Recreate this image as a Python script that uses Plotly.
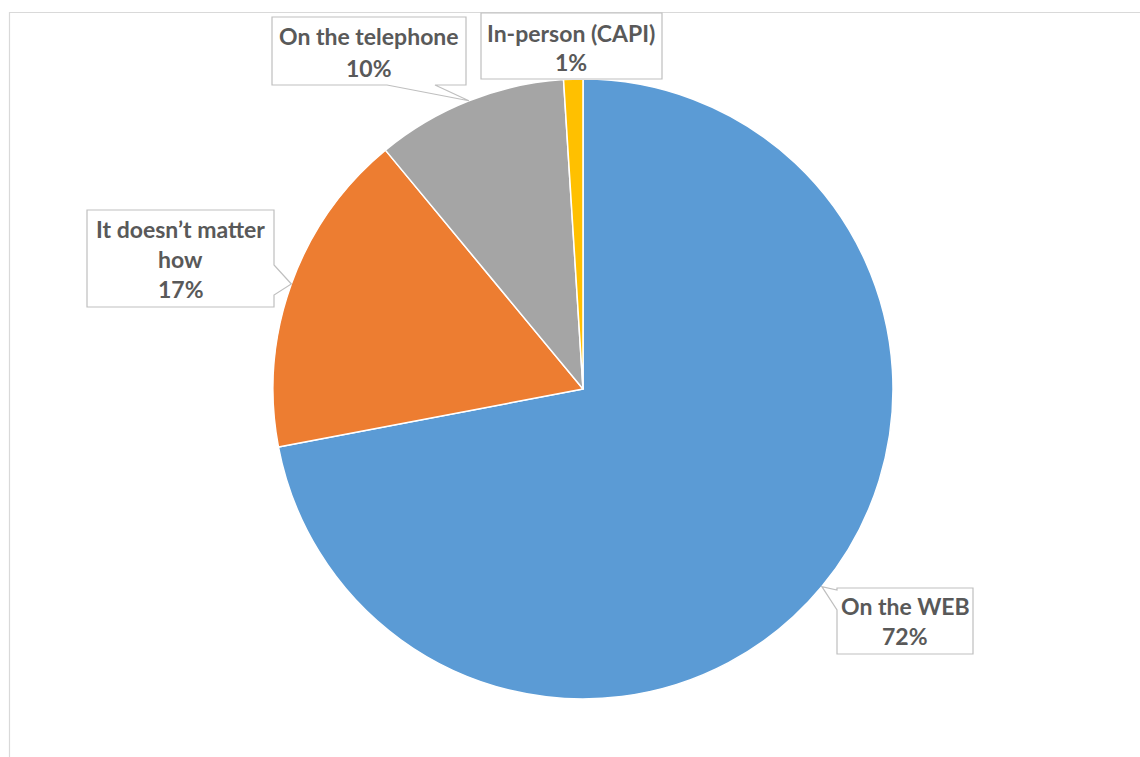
import math
import plotly.graph_objects as go

# Preferred survey mode shares (%)
labels = ["On the WEB", "It doesn\u2019t matter how", "On the telephone", "In-person (CAPI)"]
values = [72, 17, 10, 1]
colors = ["#5B9BD5", "#ED7D31", "#A5A5A5", "#FFC000"]

# Callout text lines for each slice
callout_lines = [
    ["On the WEB", "72%"],
    ["It doesn\u2019t matter", "how", "17%"],
    ["On the telephone", "10%"],
    ["In-person (CAPI)", "1%"],
]

W, H = 1140, 757
CX, CY, R = 583, 389, 310  # pie centre and radius in pixels


def px(x):
    return x / W


def py(y):
    return 1 - y / H


fig = go.Figure()
fig.add_trace(go.Pie(
    labels=labels,
    values=values,
    marker=dict(colors=colors, line=dict(color="white", width=1.5)),
    sort=False,
    direction="clockwise",
    rotation=0,
    textinfo="none",
    hoverinfo="label+percent",
    showlegend=False,
    domain=dict(x=[px(CX - R), px(CX + R)], y=[py(CY + R), py(CY - R)]),
))

# Mid-angle of each slice (clockwise from 12 o'clock), used for callout pointer tips
total = sum(values)
mid_angles = []
acc = 0
for v in values:
    mid_angles.append((acc + v / 2) / total * 2 * math.pi)
    acc += v


def tip(i):
    a = mid_angles[i]
    return CX + R * math.sin(a), CY - R * math.cos(a)


# Callout boxes: (left, top, right, bottom), pointer side and pointer base span
boxes = [
    dict(box=(837, 588, 973, 654), side="left", base=(590, 610)),
    dict(box=(87, 210, 274, 307), side="right", base=(265, 295)),
    dict(box=(272, 17, 466, 85), side="bottom", base=(387, 435)),
    dict(box=(481, 13, 662, 79), side=None, base=None),
]
line_ys = [
    [606, 636],
    [229, 259, 289],
    [36, 68],
    [33, 62],
]

shapes = []
# chart frame
shapes.append(dict(type="rect", xref="paper", yref="paper",
                   x0=px(9.5), x1=px(W + 20), y0=py(12.5), y1=py(H + 20),
                   line=dict(color="#D9D9D9", width=1.2), fillcolor="rgba(0,0,0,0)",
                   layer="below"))

annotations = []
for i, b in enumerate(boxes):
    l, t, r, btm = b["box"]
    pts = []
    if b["side"] == "left":
        tx, ty = tip(i)
        pts = [(l, t), (r, t), (r, btm), (l, btm), (l, b["base"][1]), (tx, ty), (l, b["base"][0])]
    elif b["side"] == "right":
        tx, ty = tip(i)
        pts = [(l, t), (r, t), (r, b["base"][0]), (tx, ty), (r, b["base"][1]), (r, btm), (l, btm)]
    elif b["side"] == "bottom":
        tx, ty = tip(i)
        pts = [(l, t), (r, t), (r, btm), (b["base"][1], btm), (tx, ty), (b["base"][0], btm), (l, btm)]
    else:
        pts = [(l, t), (r, t), (r, btm), (l, btm)]
    path = "M " + " L ".join(f"{px(x):.5f},{py(y):.5f}" for x, y in pts) + " Z"
    shapes.append(dict(type="path", xref="paper", yref="paper", path=path,
                       fillcolor="white", line=dict(color="#BFBFBF", width=1.2),
                       layer="above"))
    xc = (l + r) / 2
    for txt, yy in zip(callout_lines[i], line_ys[i]):
        annotations.append(dict(
            x=px(xc), y=py(yy), xref="paper", yref="paper",
            text=f"<b>{txt}</b>", showarrow=False,
            xanchor="center", yanchor="middle",
            font=dict(family="Lato", size=23, color="#595959"),
        ))

fig.update_layout(
    width=W, height=H,
    margin=dict(l=0, r=0, t=0, b=0),
    paper_bgcolor="white",
    plot_bgcolor="white",
    shapes=shapes,
    annotations=annotations,
)

fig.write_html("out.html")
